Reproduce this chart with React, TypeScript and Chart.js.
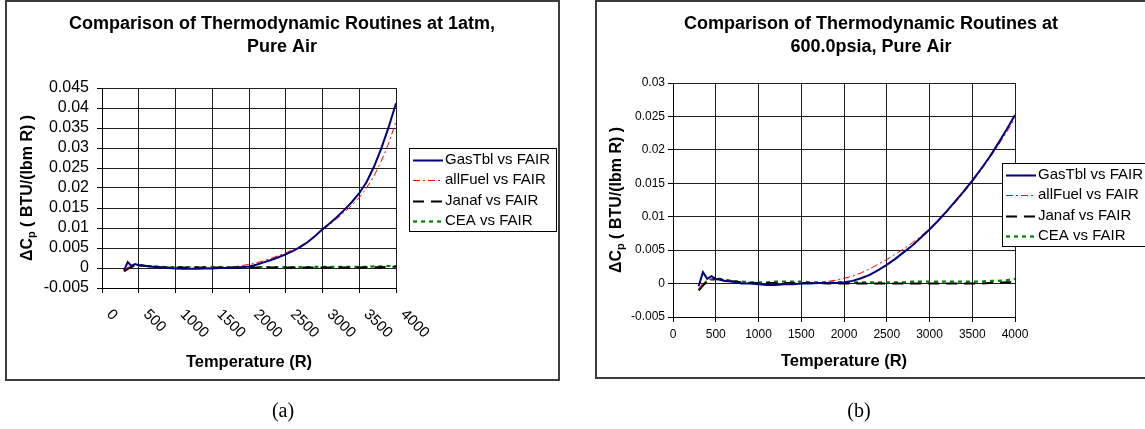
import React, { useEffect, useRef } from 'react';
import { Chart, registerables } from 'chart.js';

Chart.register(...registerables);

const FONT = '"Liberation Sans", Arial, Helvetica, sans-serif';
Chart.defaults.font.family = FONT;
Chart.defaults.color = '#000';

// ---------------- data ----------------
const temperature = [300, 350, 400, 450, 500, 550, 600, 700, 800, 900, 1000, 1100, 1200, 1300, 1400, 1500, 1600, 1700, 1800, 1900, 2000, 2100, 2200, 2300, 2400, 2500, 2600, 2700, 2800, 2900, 3000, 3100, 3200, 3300, 3400, 3500, 3600, 3700, 3800, 3900, 4000];

// (a) 1 atm
const gasTblA = [-0.0006, 0.0015, 0.0005, 0.0010, 0.0007, 0.0006, 0.0005, 0.0003, 0.0001, 0.0000, -0.0001, -0.0002, -0.0002, -0.0002, -0.0001, -0.0001, 0.0000, 0.0000, 0.0001, 0.0002, 0.0004, 0.0008, 0.0014, 0.0020, 0.0027, 0.0034, 0.0043, 0.0053, 0.0065, 0.0080, 0.0097, 0.0112, 0.0128, 0.0146, 0.0165, 0.0187, 0.0215, 0.0253, 0.0299, 0.0352, 0.0412];
const allFuelA = [-0.0008, 0.0002, 0.0005, 0.0006, 0.0006, 0.0005, 0.0004, 0.0002, 0.0001, 0.0000, -0.0001, -0.0001, -0.0001, -0.0001, 0.0000, 0.0000, 0.0000, 0.0001, 0.0003, 0.0006, 0.0009, 0.0013, 0.0018, 0.0024, 0.0031, 0.0038, 0.0046, 0.0055, 0.0066, 0.0080, 0.0095, 0.0109, 0.0124, 0.0140, 0.0157, 0.0176, 0.0200, 0.0230, 0.0267, 0.0312, 0.0366];
const janafA = [-0.0008, -0.0002, 0.0003, 0.0006, 0.0006, 0.0006, 0.0005, 0.0003, 0.0002, 0.0001, 0.0001, 0.0001, 0.0001, 0.0001, 0.0001, 0.0001, 0.0001, 0.0001, 0.0001, 0.0001, 0.0001, 0.0001, 0.0001, 0.0001, 0.0001, 0.0001, 0.0001, 0.0001, 0.0001, 0.0001, 0.0001, 0.0001, 0.0001, 0.0001, 0.0001, 0.0001, 0.0002, 0.0002, 0.0002, 0.0003, 0.0003];
const ceaA = [-0.0008, -0.0001, 0.0004, 0.0006, 0.0007, 0.0006, 0.0005, 0.0004, 0.0003, 0.0002, 0.0002, 0.0002, 0.0002, 0.0002, 0.0002, 0.0002, 0.0002, 0.0002, 0.0002, 0.0002, 0.0002, 0.0002, 0.0002, 0.0002, 0.0002, 0.0002, 0.0002, 0.0002, 0.0002, 0.0003, 0.0003, 0.0003, 0.0003, 0.0003, 0.0003, 0.0003, 0.0003, 0.0004, 0.0004, 0.0005, 0.0005];

// (b) 600 psia
const gasTblB = [-0.0004, 0.0017, 0.0007, 0.0011, 0.0007, 0.0006, 0.0004, 0.0003, 0.0000, 0.0000, -0.0001, -0.0002, -0.0002, -0.0001, -0.0001, 0.0000, 0.0000, 0.0001, 0.0001, 0.0001, 0.0002, 0.0004, 0.0008, 0.0013, 0.0020, 0.0028, 0.0037, 0.0047, 0.0057, 0.0069, 0.0081, 0.0094, 0.0108, 0.0123, 0.0138, 0.0154, 0.0171, 0.0189, 0.0209, 0.0230, 0.0252];
const allFuelB = [-0.0009, 0.0001, 0.0005, 0.0007, 0.0007, 0.0006, 0.0005, 0.0003, 0.0001, 0.0000, -0.0001, -0.0001, -0.0001, 0.0000, 0.0000, 0.0000, 0.0001, 0.0001, 0.0003, 0.0005, 0.0008, 0.0011, 0.0016, 0.0022, 0.0029, 0.0036, 0.0044, 0.0052, 0.0061, 0.0071, 0.0082, 0.0094, 0.0107, 0.0121, 0.0136, 0.0152, 0.0169, 0.0187, 0.0206, 0.0226, 0.0247];
const janafB = [-0.0010, -0.0003, 0.0003, 0.0006, 0.0007, 0.0006, 0.0005, 0.0003, 0.0002, 0.0001, 0.0001, 0.0001, 0.0001, 0.0001, 0.0001, 0.0001, 0.0001, 0.0001, 0.0000, 0.0000, 0.0000, 0.0000, 0.0000, 0.0000, 0.0000, 0.0000, 0.0000, 0.0000, 0.0000, 0.0000, 0.0000, 0.0000, 0.0000, 0.0000, 0.0000, 0.0000, 0.0000, 0.0001, 0.0001, 0.0002, 0.0002];
const ceaB = [-0.0010, -0.0002, 0.0004, 0.0006, 0.0007, 0.0007, 0.0006, 0.0004, 0.0003, 0.0002, 0.0002, 0.0002, 0.0003, 0.0003, 0.0003, 0.0003, 0.0002, 0.0002, 0.0002, 0.0002, 0.0002, 0.0002, 0.0002, 0.0002, 0.0002, 0.0002, 0.0002, 0.0002, 0.0003, 0.0003, 0.0003, 0.0003, 0.0003, 0.0003, 0.0003, 0.0003, 0.0003, 0.0004, 0.0004, 0.0005, 0.0007];

const seriesLabels = ['GasTbl vs FAIR', 'allFuel vs FAIR', 'Janaf vs FAIR', 'CEA vs FAIR'];
const seriesColors = ['#000080', '#ff0000', '#000000', '#008000'];
const seriesWidths = [2, 1, 2, 2.2];
const seriesDashes: number[][] = [[], [7, 3, 2, 3], [11, 7], [4, 4]];

const xTickValues = [0, 500, 1000, 1500, 2000, 2500, 3000, 3500, 4000];
const yTickValuesA = [-0.005, 0, 0.005, 0.01, 0.015, 0.02, 0.025, 0.03, 0.035, 0.04, 0.045];
const yTickValuesB = [-0.005, 0, 0.005, 0.01, 0.015, 0.02, 0.025, 0.03];

const titleA = ['Comparison of Thermodynamic Routines at 1atm,', 'Pure Air'];
const titleB = ['Comparison of Thermodynamic Routines at', '600.0psia, Pure Air'];
const xTitle = 'Temperature (R)';
const yTitleParts = ['\u0394C', 'p', ' ( BTU/(lbm R) )'];
const captions = ['(a)', '(b)'];

const W = 1145;
const H = 429;
const GRID = '#1e1e1e';

type Panel = {
  series: number[][];
  title: string[];
  yTicks: number[];
  area: { left: number; top: number; right: number; bottom: number };
  box: [number, number, number, number];
  titleX: number;
  yTitleX: number;
  xTitleY: number;
  yFont: number;
  yPad: number;
  rotatedX: boolean;
  legendBox: [number, number, number, number];
  legendRow0: number;
  legendRowStep: number;
};

const panels: Panel[] = [
  {
    series: [gasTblA, allFuelA, janafA, ceaA],
    title: titleA,
    yTicks: yTickValuesA,
    area: { left: 102, top: 88, right: 396, bottom: 288 },
    box: [6, 1, 559, 380],
    titleX: 282,
    yTitleX: 31.5,
    xTitleY: 366.5,
    yFont: 16,
    yPad: 8,
    rotatedX: true,
    legendBox: [409, 148, 556, 231],
    legendRow0: 160,
    legendRowStep: 20.3,
  },
  {
    series: [gasTblB, allFuelB, janafB, ceaB],
    title: titleB,
    yTicks: yTickValuesB,
    area: { left: 673, top: 83, right: 1015, bottom: 317 },
    box: [596, 1, 1148, 378],
    titleX: 871,
    yTitleX: 620.5,
    xTitleY: 365.5,
    yFont: 12,
    yPad: 3,
    rotatedX: false,
    legendBox: [1002, 163, 1150, 246],
    legendRow0: 174.5,
    legendRowStep: 20.6,
  },
];

function decorPlugin(p: Panel) {
  return {
    id: 'decor',
    afterDraw(chart: any) {
      const ctx: CanvasRenderingContext2D = chart.ctx;
      const area = chart.chartArea;
      ctx.save();
      // outer frame
      ctx.strokeStyle = '#3c3c3c';
      ctx.lineWidth = 2;
      ctx.setLineDash([]);
      ctx.strokeRect(p.box[0], p.box[1], p.box[2] - p.box[0], p.box[3] - p.box[1]);

      // title
      ctx.fillStyle = '#000';
      ctx.font = `bold 18px ${FONT}`;
      ctx.textAlign = 'center';
      ctx.textBaseline = 'alphabetic';
      p.title.forEach((line, i) => ctx.fillText(line, p.titleX, 29 + i * 22.5));

      // x title
      ctx.font = `bold 16.5px ${FONT}`;
      ctx.fillText(xTitle, (area.left + area.right) / 2, p.xTitleY);

      // y title with subscript
      ctx.save();
      const cy = (area.top + area.bottom) / 2;
      ctx.translate(p.yTitleX, cy);
      ctx.rotate(-Math.PI / 2);
      const mainFont = `bold 16px ${FONT}`;
      const subFont = `bold 11px ${FONT}`;
      ctx.font = mainFont;
      const w0 = ctx.measureText(yTitleParts[0]).width;
      const w2 = ctx.measureText(yTitleParts[2]).width;
      ctx.font = subFont;
      const w1 = ctx.measureText(yTitleParts[1]).width;
      let x0 = -(w0 + w1 + w2) / 2;
      ctx.textAlign = 'left';
      ctx.font = mainFont;
      ctx.fillText(yTitleParts[0], x0, 0);
      x0 += w0;
      ctx.font = subFont;
      ctx.fillText(yTitleParts[1], x0, 3);
      x0 += w1;
      ctx.font = mainFont;
      ctx.fillText(yTitleParts[2], x0, 0);
      ctx.restore();

      // rotated x tick labels
      if (p.rotatedX) {
        const xs = chart.scales.x;
        ctx.font = `15px ${FONT}`;
        ctx.textAlign = 'left';
        ctx.textBaseline = 'middle';
        xTickValues.forEach((v) => {
          const px = xs.getPixelForValue(v);
          ctx.save();
          ctx.translate(px + 7, area.bottom + 24);
          ctx.rotate(Math.PI / 4);
          ctx.fillText(String(v), 0, 0);
          ctx.restore();
        });
      }

      // legend
      const [lx0, ly0, lx1, ly1] = p.legendBox;
      ctx.fillStyle = '#fff';
      ctx.fillRect(lx0, ly0, lx1 - lx0, ly1 - ly0);
      ctx.strokeStyle = '#000';
      ctx.lineWidth = 1;
      ctx.strokeRect(lx0 + 0.5, ly0 + 0.5, lx1 - lx0, ly1 - ly0);
      ctx.font = `15px ${FONT}`;
      ctx.textAlign = 'left';
      ctx.textBaseline = 'middle';
      chart.data.datasets.forEach((ds: any, i: number) => {
        const y = p.legendRow0 + i * p.legendRowStep;
        ctx.save();
        ctx.strokeStyle = ds.borderColor;
        ctx.lineWidth = ds.borderWidth;
        ctx.setLineDash(ds.borderDash || []);
        ctx.beginPath();
        ctx.moveTo(lx0 + 4, Math.round(y) + 0.5);
        ctx.lineTo(lx0 + 34, Math.round(y) + 0.5);
        ctx.stroke();
        ctx.restore();
        ctx.fillStyle = '#000';
        ctx.fillText(ds.label, lx0 + 36, y);
      });
      ctx.restore();
    },
  };
}

function buildConfig(p: Panel): any {
  return {
    type: 'line',
    data: {
      datasets: p.series.map((vals, i) => ({
        label: seriesLabels[i],
        data: temperature.map((t, j) => ({ x: t, y: vals[j] })),
        borderColor: seriesColors[i],
        backgroundColor: seriesColors[i],
        borderWidth: seriesWidths[i],
        borderDash: seriesDashes[i],
        pointRadius: 0,
        fill: false,
        tension: 0,
      })),
    },
    options: {
      animation: false,
      responsive: false,
      maintainAspectRatio: false,
      events: [],
      layout: { padding: { left: 0, top: p.area.top, right: W - p.area.right, bottom: 0 } },
      plugins: {
        legend: { display: false },
        title: { display: false },
        tooltip: { enabled: false },
      },
      scales: {
        x: {
          type: 'linear',
          min: xTickValues[0],
          max: xTickValues[xTickValues.length - 1],
          afterBuildTicks: (s: any) => {
            s.ticks = xTickValues.map((v) => ({ value: v }));
          },
          ticks: {
            display: !p.rotatedX,
            font: { size: 12 },
            color: '#000',
            padding: 5,
            maxRotation: 0,
            autoSkip: false,
            callback: (v: any) => String(v),
          },
          grid: { color: GRID, tickColor: '#000', tickLength: 5, lineWidth: 1 },
          border: { color: '#000', width: 1 },
          title: { display: false },
          afterFit: (s: any) => {
            s.height = H - p.area.bottom;
          },
        },
        y: {
          type: 'linear',
          min: p.yTicks[0],
          max: p.yTicks[p.yTicks.length - 1],
          afterBuildTicks: (s: any) => {
            s.ticks = p.yTicks.map((v) => ({ value: v }));
          },
          ticks: {
            font: { size: p.yFont },
            color: '#000',
            padding: p.yPad,
            autoSkip: false,
            callback: (v: any) => String(Number(Number(v).toFixed(4))),
          },
          grid: { color: GRID, tickColor: '#000', tickLength: 5, lineWidth: 1 },
          border: { color: '#000', width: 1 },
          title: { display: false },
          afterFit: (s: any) => {
            s.width = p.area.left;
          },
        },
      },
    },
    plugins: [decorPlugin(p)],
  };
}

function ChartPanel({ panel }: { panel: Panel }) {
  const ref = useRef<HTMLCanvasElement>(null);
  useEffect(() => {
    if (!ref.current) return;
    const chart = new Chart(ref.current, buildConfig(panel));
    return () => chart.destroy();
  }, [panel]);
  return (
    <canvas
      ref={ref}
      width={W}
      height={H}
      style={{ position: 'absolute', left: 0, top: 0, width: W, height: H }}
    />
  );
}

export default function App() {
  const capX = [283, 859];
  return (
    <div
      style={{
        position: 'fixed',
        left: 0,
        top: 0,
        width: W,
        height: H,
        background: '#fff',
        overflow: 'hidden',
      }}
    >
      {panels.map((p, i) => (
        <ChartPanel key={i} panel={p} />
      ))}
      {captions.map((c, i) => (
        <div
          key={c}
          style={{
            position: 'absolute',
            left: capX[i],
            top: 398,
            transform: 'translateX(-50%)',
            fontFamily: '"Liberation Serif", "DejaVu Serif", serif',
            fontSize: 20,
            lineHeight: '24px',
            color: '#000',
          }}
        >
          {c}
        </div>
      ))}
    </div>
  );
}
